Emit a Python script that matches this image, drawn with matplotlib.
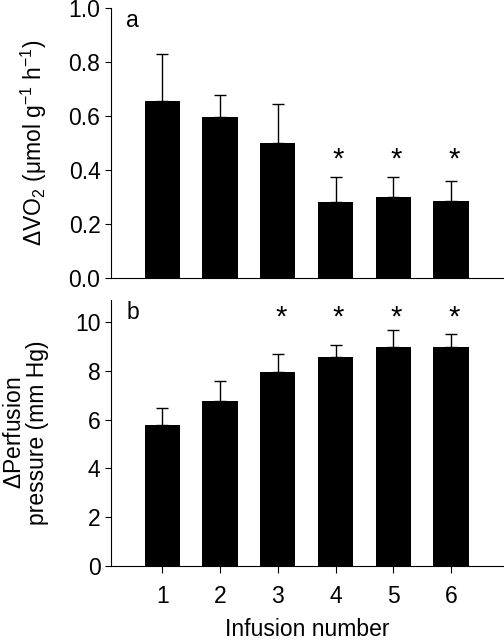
import matplotlib
matplotlib.use("Agg")
import matplotlib.pyplot as plt

plt.rcParams['font.family'] = ['Liberation Sans', 'DejaVu Sans']
plt.rcParams['mathtext.fontset'] = 'custom'
plt.rcParams['mathtext.rm'] = 'Liberation Sans'
plt.rcParams['mathtext.it'] = 'Liberation Sans:italic'

infusion = [1, 2, 3, 4, 5, 6]

# panel a: delta VO2
vo2_mean = [0.656, 0.597, 0.501, 0.280, 0.300, 0.283]
vo2_err = [0.174, 0.082, 0.142, 0.093, 0.073, 0.074]
vo2_sig = [False, False, False, True, True, True]

# panel b: delta perfusion pressure
pp_mean = [5.79, 6.78, 7.97, 8.56, 8.96, 8.96]
pp_err = [0.68, 0.80, 0.72, 0.51, 0.71, 0.55]
pp_sig = [False, False, True, True, True, True]

fs = 16.5

fig = plt.figure(figsize=(5.04, 6.4), dpi=100)
ax_a = fig.add_axes([0.220, 0.566, 0.778, 0.4215])
ax_b = fig.add_axes([0.220, 0.1156, 0.778, 0.4155])


def draw_panel(ax, mean, err, sig, star_y, ylim, yticks, letter):
    ax.bar(infusion, mean, width=0.61, color='black', zorder=2)
    ax.errorbar(infusion, mean, yerr=[[0] * len(err), err], fmt='none',
                ecolor='black', elinewidth=1.0, capsize=4, capthick=1.0, zorder=1)
    for x, s in zip(infusion, sig):
        if s:
            ax.text(x + 0.05, star_y, '*', ha='center', va='center',
                    fontsize=21)
    ax.set_xlim(0.11, 6.9)
    ax.set_ylim(*ylim)
    ax.set_yticks(yticks)
    ax.spines['top'].set_visible(False)
    ax.spines['right'].set_visible(False)
    ax.tick_params(axis='y', direction='out', length=4, labelsize=fs)
    ax.text(0.055, 0.955, letter, transform=ax.transAxes, fontsize=fs,
            ha='center', va='center')


draw_panel(ax_a, vo2_mean, vo2_err, vo2_sig, 0.44, (0, 1.0),
           [0.0, 0.2, 0.4, 0.6, 0.8, 1.0], 'a')
ax_a.set_yticklabels(['0.0', '0.2', '0.4', '0.6', '0.8', '1.0'])
ax_a.set_xticks([])
ax_a.set_ylabel(r'$\Delta$VO$_2$ ($\mathrm{\mu}$mol g$^{-1}$ h$^{-1}$)', fontsize=fs)
ax_a.yaxis.set_label_coords(-0.158, 0.5)

draw_panel(ax_b, pp_mean, pp_err, pp_sig, 10.2, (0, 10.9),
           [0, 2, 4, 6, 8, 10], 'b')
ax_b.set_xticks(infusion)
ax_b.tick_params(axis='x', direction='out', length=5, labelsize=fs, pad=9)
ax_b.set_ylabel('$\\Delta$Perfusion\npressure (mm Hg)', fontsize=fs, linespacing=1.0)
ax_b.yaxis.set_label_coords(-0.158, 0.5)
ax_b.set_xlabel('Infusion number', fontsize=fs, labelpad=7)

fig.savefig('out.png', dpi=100)
